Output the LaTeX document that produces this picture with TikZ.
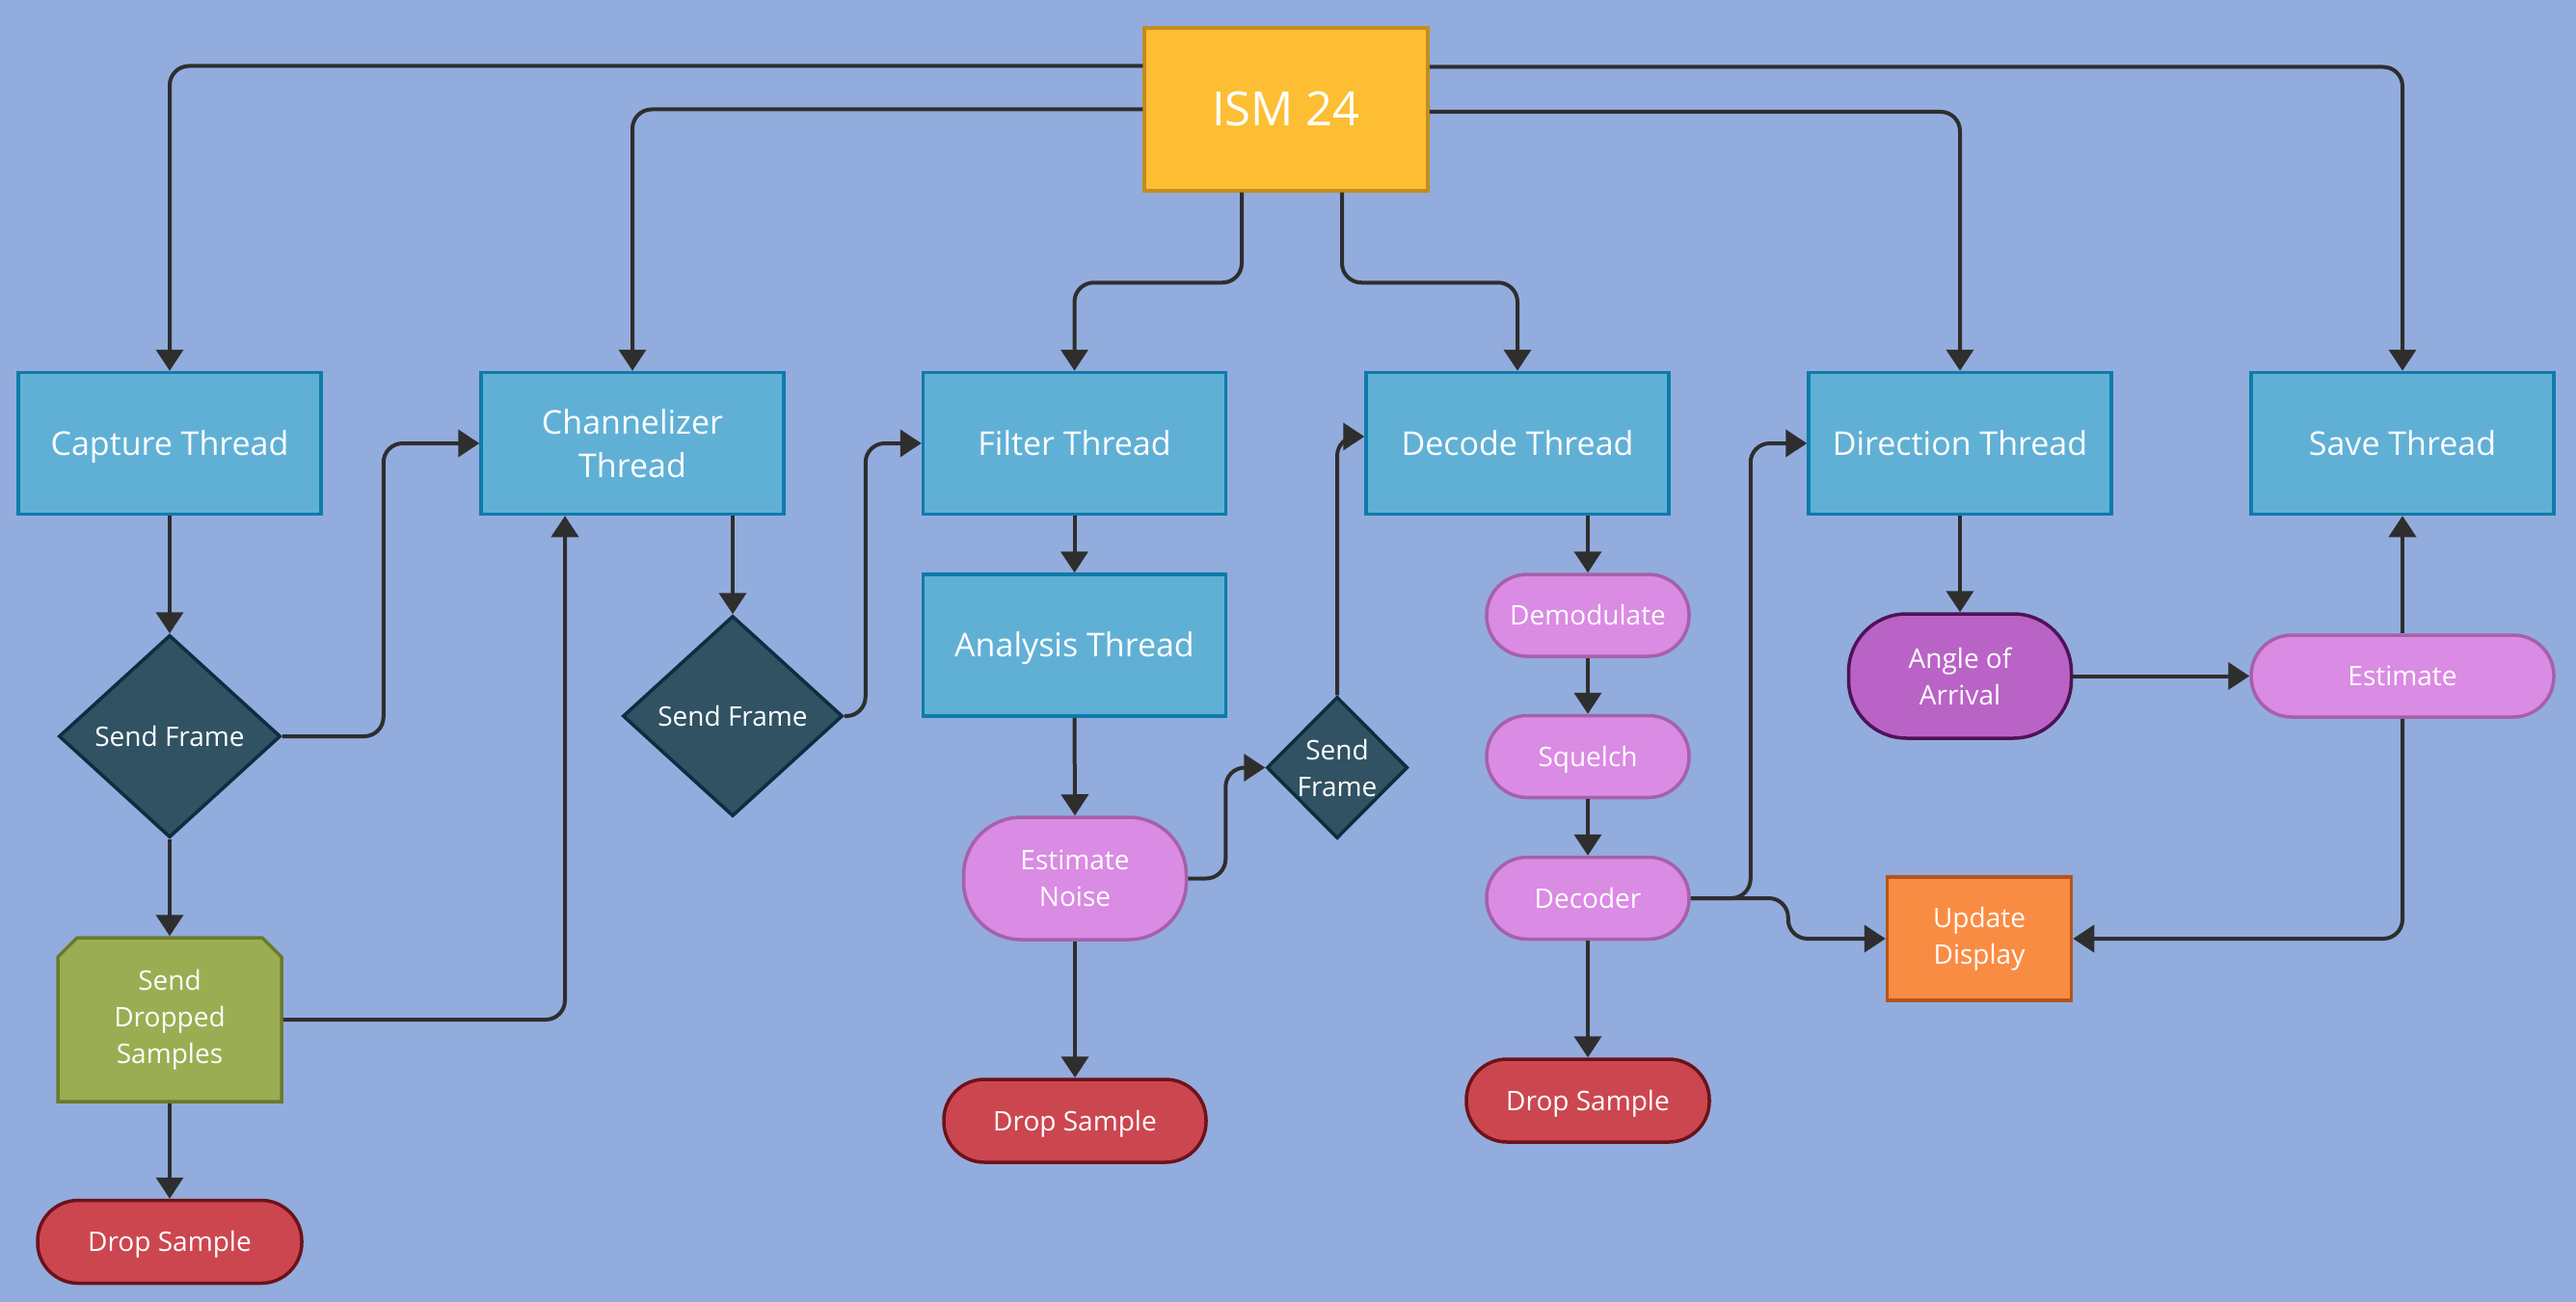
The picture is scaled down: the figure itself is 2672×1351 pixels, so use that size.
\documentclass[tikz,border=0pt]{standalone}
\usepackage{fontspec}
\setmainfont{Open Sans}
\usetikzlibrary{arrows.meta,shapes.geometric}
\definecolor{bgC}{HTML}{92ACDD}
\definecolor{threadF}{HTML}{60B0D6}
\definecolor{threadB}{HTML}{0E7BAA}
\definecolor{ismF}{HTML}{FDBE33}
\definecolor{ismB}{HTML}{C38D1E}
\definecolor{diaF}{HTML}{305263}
\definecolor{diaB}{HTML}{0E2D40}
\definecolor{sdsF}{HTML}{9BAD52}
\definecolor{sdsB}{HTML}{6B7A2A}
\definecolor{dropF}{HTML}{CC4650}
\definecolor{dropB}{HTML}{6D1219}
\definecolor{pinkF}{HTML}{DA8BE3}
\definecolor{pinkB}{HTML}{A660AA}
\definecolor{aoaF}{HTML}{B963C6}
\definecolor{aoaB}{HTML}{4F1256}
\definecolor{updF}{HTML}{F98C43}
\definecolor{updB}{HTML}{B5541A}
\definecolor{lineC}{HTML}{2E2E2E}
\tikzset{
  base/.style={line width=3.5pt, inner sep=0pt, text=white, align=center},
  thread/.style={base, rectangle, draw=threadB, fill=threadF, minimum width=314pt, minimum height=147pt, font=\fontsize{34}{45}\selectfont},
  pill/.style={base, rectangle, rounded corners=42pt, draw=pinkB, fill=pinkF, minimum width=210pt, minimum height=85pt, font=\fontsize{28}{38}\selectfont},
  droppill/.style={base, rectangle, rounded corners=42pt, draw=dropB, fill=dropF, minimum height=86pt, font=\fontsize{28}{38}\selectfont},
  dia/.style={base, diamond, draw=diaB, fill=diaF, font=\fontsize{28}{38}\selectfont},
  oneL/.style={text height=24.5pt, text depth=0pt},
  oneS/.style={text height=20pt, text depth=0pt},
  conn/.style={draw=lineC, line width=4pt, rounded corners=20pt, -{Triangle[width=28pt,length=22pt]}}
}
\begin{document}
\begin{tikzpicture}[x=1pt,y=-1pt]
\useasboundingbox (0,0) rectangle (2672,1351);
\fill[bgC] (0,0) rectangle (2672,1351);

% nodes
\node[base, rectangle, draw=ismB, fill=ismF, minimum width=294pt, minimum height=169pt, font=\fontsize{49}{58}\selectfont, text height=35pt, text depth=0pt] (ism) at (1334,113.5) {ISM 24};

\node[thread, oneL] (cap) at (176,460) {Capture Thread};
\node[thread] (chan) at (656,460) {Channelizer\\Thread};
\node[thread, oneL] (filt) at (1114.5,460) {Filter Thread};
\node[thread, oneL] (dec) at (1574,460) {Decode Thread};
\node[thread, oneL] (dir) at (2033,460) {Direction Thread};
\node[thread, oneL] (save) at (2492,460) {Save Thread};
\node[thread, oneL] (ana) at (1114.5,669.5) {Analysis Thread};

\node[dia, oneS, minimum width=230pt, minimum height=210pt] (sf1) at (176,764) {Send Frame};
\node[dia, oneS, minimum width=228pt, minimum height=208pt] (sf2) at (760,743) {Send Frame};
\node[dia, minimum width=146pt, minimum height=147pt] (sf3) at (1387,796.5) {Send\\Frame};

\path[draw=sdsB, fill=sdsF, line width=3.5pt] (60,993) -- (80,973) -- (272,973) -- (292,993) -- (292,1143) -- (60,1143) -- cycle;
\node[base, minimum width=232pt, minimum height=170pt, font=\fontsize{28}{38}\selectfont] (sds) at (176,1058) {Send\\Dropped\\Samples};

\node[droppill, oneS, minimum width=274pt] (drop1) at (176,1288.5) {Drop Sample};
\node[droppill, oneS, minimum width=272pt] (drop2) at (1115,1163) {Drop Sample};
\node[droppill, oneS, minimum width=252pt] (drop3) at (1647,1142) {Drop Sample};

\node[pill, rounded corners=60pt, minimum width=231pt, minimum height=127pt] (en) at (1115,911.5) {Estimate\\Noise};
\node[pill, oneS] (demod) at (1647,638.5) {Demodulate};
\node[pill, oneS] (squelch) at (1647,785) {Squelch};
\node[pill, oneS] (decoder) at (1647,932) {Decoder};
\node[pill, oneS, minimum width=314pt] (est) at (2492,701.5) {Estimate};
\node[pill, rounded corners=60pt, draw=aoaB, fill=aoaF, minimum width=231pt, minimum height=129pt] (aoa) at (2033,701.5) {Angle of\\Arrival};
\node[base, rectangle, draw=updB, fill=updF, minimum width=191pt, minimum height=128pt, font=\fontsize{28}{38}\selectfont] (upd) at (2053,974) {Update\\Display};

% connectors from ISM 24
\draw[conn] ([yshift=45pt]ism.west) -| (cap.north);
\draw[conn] (ism.west) -| (chan.north);
\draw[conn] ([xshift=-46pt]ism.south) -- ++(0,93.5) -| (filt.north);
\draw[conn] ([xshift=58pt]ism.south) -- ++(0,93.5) -| (dec.north);
\draw[conn] ([yshift=-2.5pt]ism.east) -| (dir.north);
\draw[conn] ([yshift=44pt]ism.east) -| (save.north);

% capture column
\draw[conn] (cap.south) -- (sf1.north);
\draw[conn] (sf1.east) -- ++(105,0) |- (chan.west);
\draw[conn] (sf1.south) -- (sds.north);
\draw[conn] (sds.south) -- (drop1.north);
\draw[conn] (sds.east) -| ([xshift=-70pt]chan.south);

% channelizer column
\draw[conn] (chan.south -| sf2.north) -- (sf2.north);
\draw[conn] (sf2.east) -- ++(22,0) |- (filt.west);

% filter column
\draw[conn] (filt.south) -- (ana.north);
\draw[conn] (ana.south) -- (en.north);
\draw[conn] (en.south) -- (drop2.north);
\draw[conn] (en.east) -- ++(39,0) |- (sf3.west);
\draw[conn] (sf3.north) |- ([yshift=7pt]dec.west);

% decode column
\draw[conn] (dec.south -| demod.north) -- (demod.north);
\draw[conn] (demod.south) -- (squelch.north);
\draw[conn] (squelch.south) -- (decoder.north);
\draw[conn] (decoder.south) -- (drop3.north);
\draw[conn] (decoder.east) -- ++(62,0) |- (dir.west);
\draw[conn] (decoder.east) -- ++(101,0) |- (upd.west);

% direction / save
\draw[conn] (dir.south) -- (aoa.north);
\draw[conn] (aoa.east) -- (est.west);
\draw[conn] (est.north) -- (save.south);
\draw[conn] (est.south) |- (upd.east);
\end{tikzpicture}
\end{document}
